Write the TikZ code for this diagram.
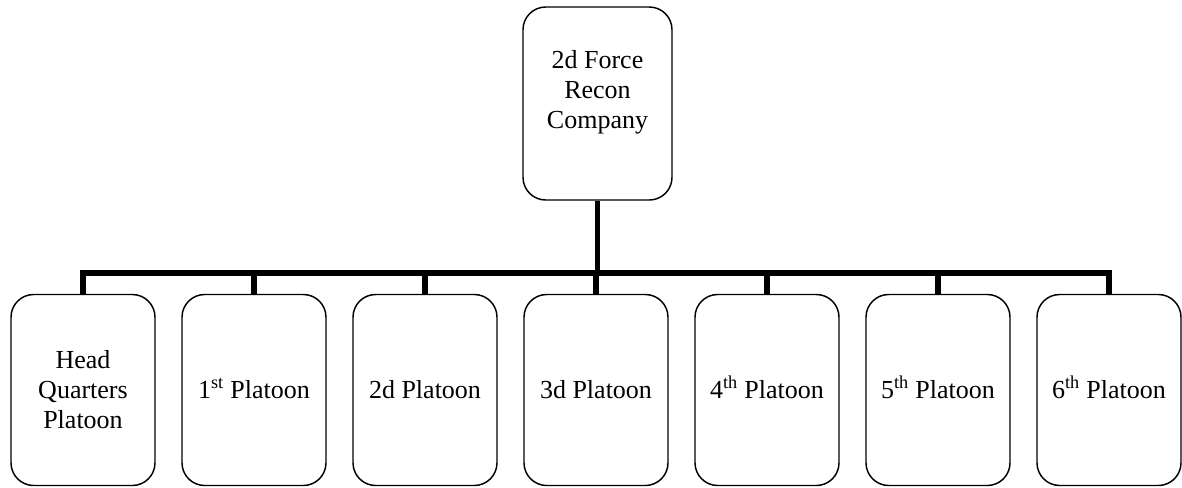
\documentclass[tikz,border=0pt]{standalone}
\usepackage{fontspec}
\setmainfont{Liberation Serif}
\usetikzlibrary{positioning}

\begin{document}
\begin{tikzpicture}[every node/.style={inner sep=0pt},x=0.75pt,y=-0.75pt,
  unitbox/.style={draw,rounded corners=17pt,line width=1.1pt,align=center,
    minimum width=108pt,minimum height=143.25pt},
  unitname/.style={align=center,font=\fontsize{19.5}{22.5}\selectfont},
  link/.style={line width=4.2pt,line join=miter}]
\useasboundingbox (0,0) rectangle (1182,487);
\node[unitbox,minimum width=111.75pt,minimum height=144.75pt] (coy) at (597.5,103.5) {};
\node[unitname] (coyname) at (597.5,92) {2d Force\\Recon\\Company};
\coordinate (bus) at (597.5,273);
\foreach \txt [count=\i from 0] in {{Head\\Quarters\\Platoon},{1\smash{\textsuperscript{st}} Platoon},
  {2d Platoon},{3d Platoon},{4\smash{\textsuperscript{th}} Platoon},{5\smash{\textsuperscript{th}} Platoon},
  {6\smash{\textsuperscript{th}} Platoon}}{%
\node[unitbox,font=\fontsize{19.5}{22.5}\selectfont] (plt\i) at ({83 + \i*171},390) {\txt};
}
\draw[link] (coy.south) -- (bus);
\draw[link] (plt0.north) -- (plt0.north |- bus) -- (plt6.north |- bus) -- (plt6.north);
\foreach \i in {1,...,5}{%
\draw[link] (plt\i.north |- bus) -- (plt\i.north);
}
\end{tikzpicture}
\end{document}
